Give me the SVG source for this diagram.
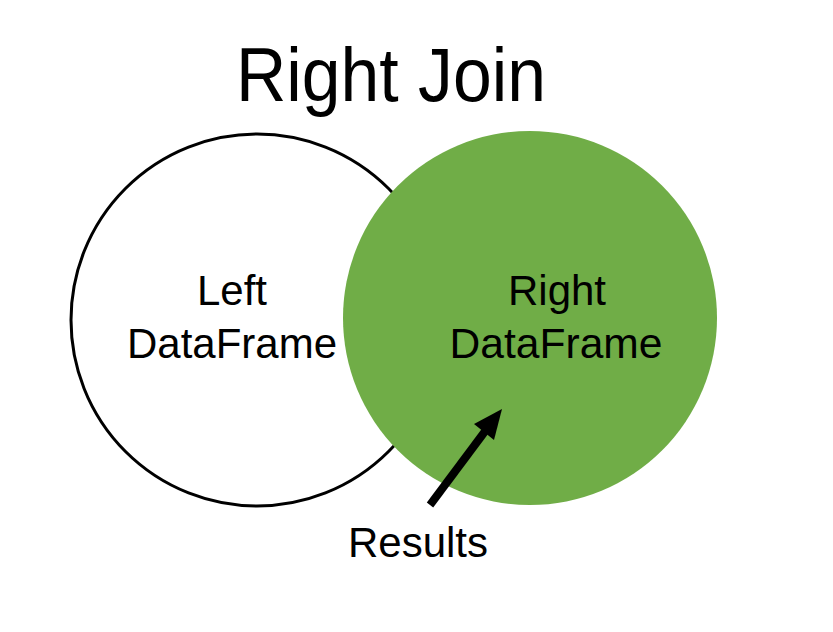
<svg xmlns="http://www.w3.org/2000/svg" width="833" height="632" viewBox="0 0 833 632">
<style>
  text { font-family: "Liberation Sans", Arial, sans-serif; fill: #000; text-anchor: middle; }
  .lbl { font-size: 42px; }
  .title { font-size: 76px; }
</style>
<rect width="833" height="632" fill="#fff"/>
<text class="title" x="391" y="101" textLength="310" lengthAdjust="spacingAndGlyphs">Right Join</text>
<g id="left">
  <circle cx="257" cy="320" r="186" fill="#fff" stroke="#000" stroke-width="3"/>
  <text class="lbl" x="232" y="305">Left</text>
  <text class="lbl" x="232" y="358" textLength="210" lengthAdjust="spacingAndGlyphs">DataFrame</text>
</g>
<g id="right">
  <circle cx="530" cy="318" r="187" fill="#70AD47"/>
  <text class="lbl" x="557" y="305">Right</text>
  <text class="lbl" x="556" y="358" textLength="213" lengthAdjust="spacingAndGlyphs">DataFrame</text>
</g>
<g id="connectors">
  <line x1="430" y1="505" x2="486" y2="430" stroke="#000" stroke-width="8"/>
  <polygon points="502,409 494,440 474,424" fill="#000"/>
</g>
<g id="results">
  <text class="lbl" x="418" y="557">Results</text>
</g>
</svg>
